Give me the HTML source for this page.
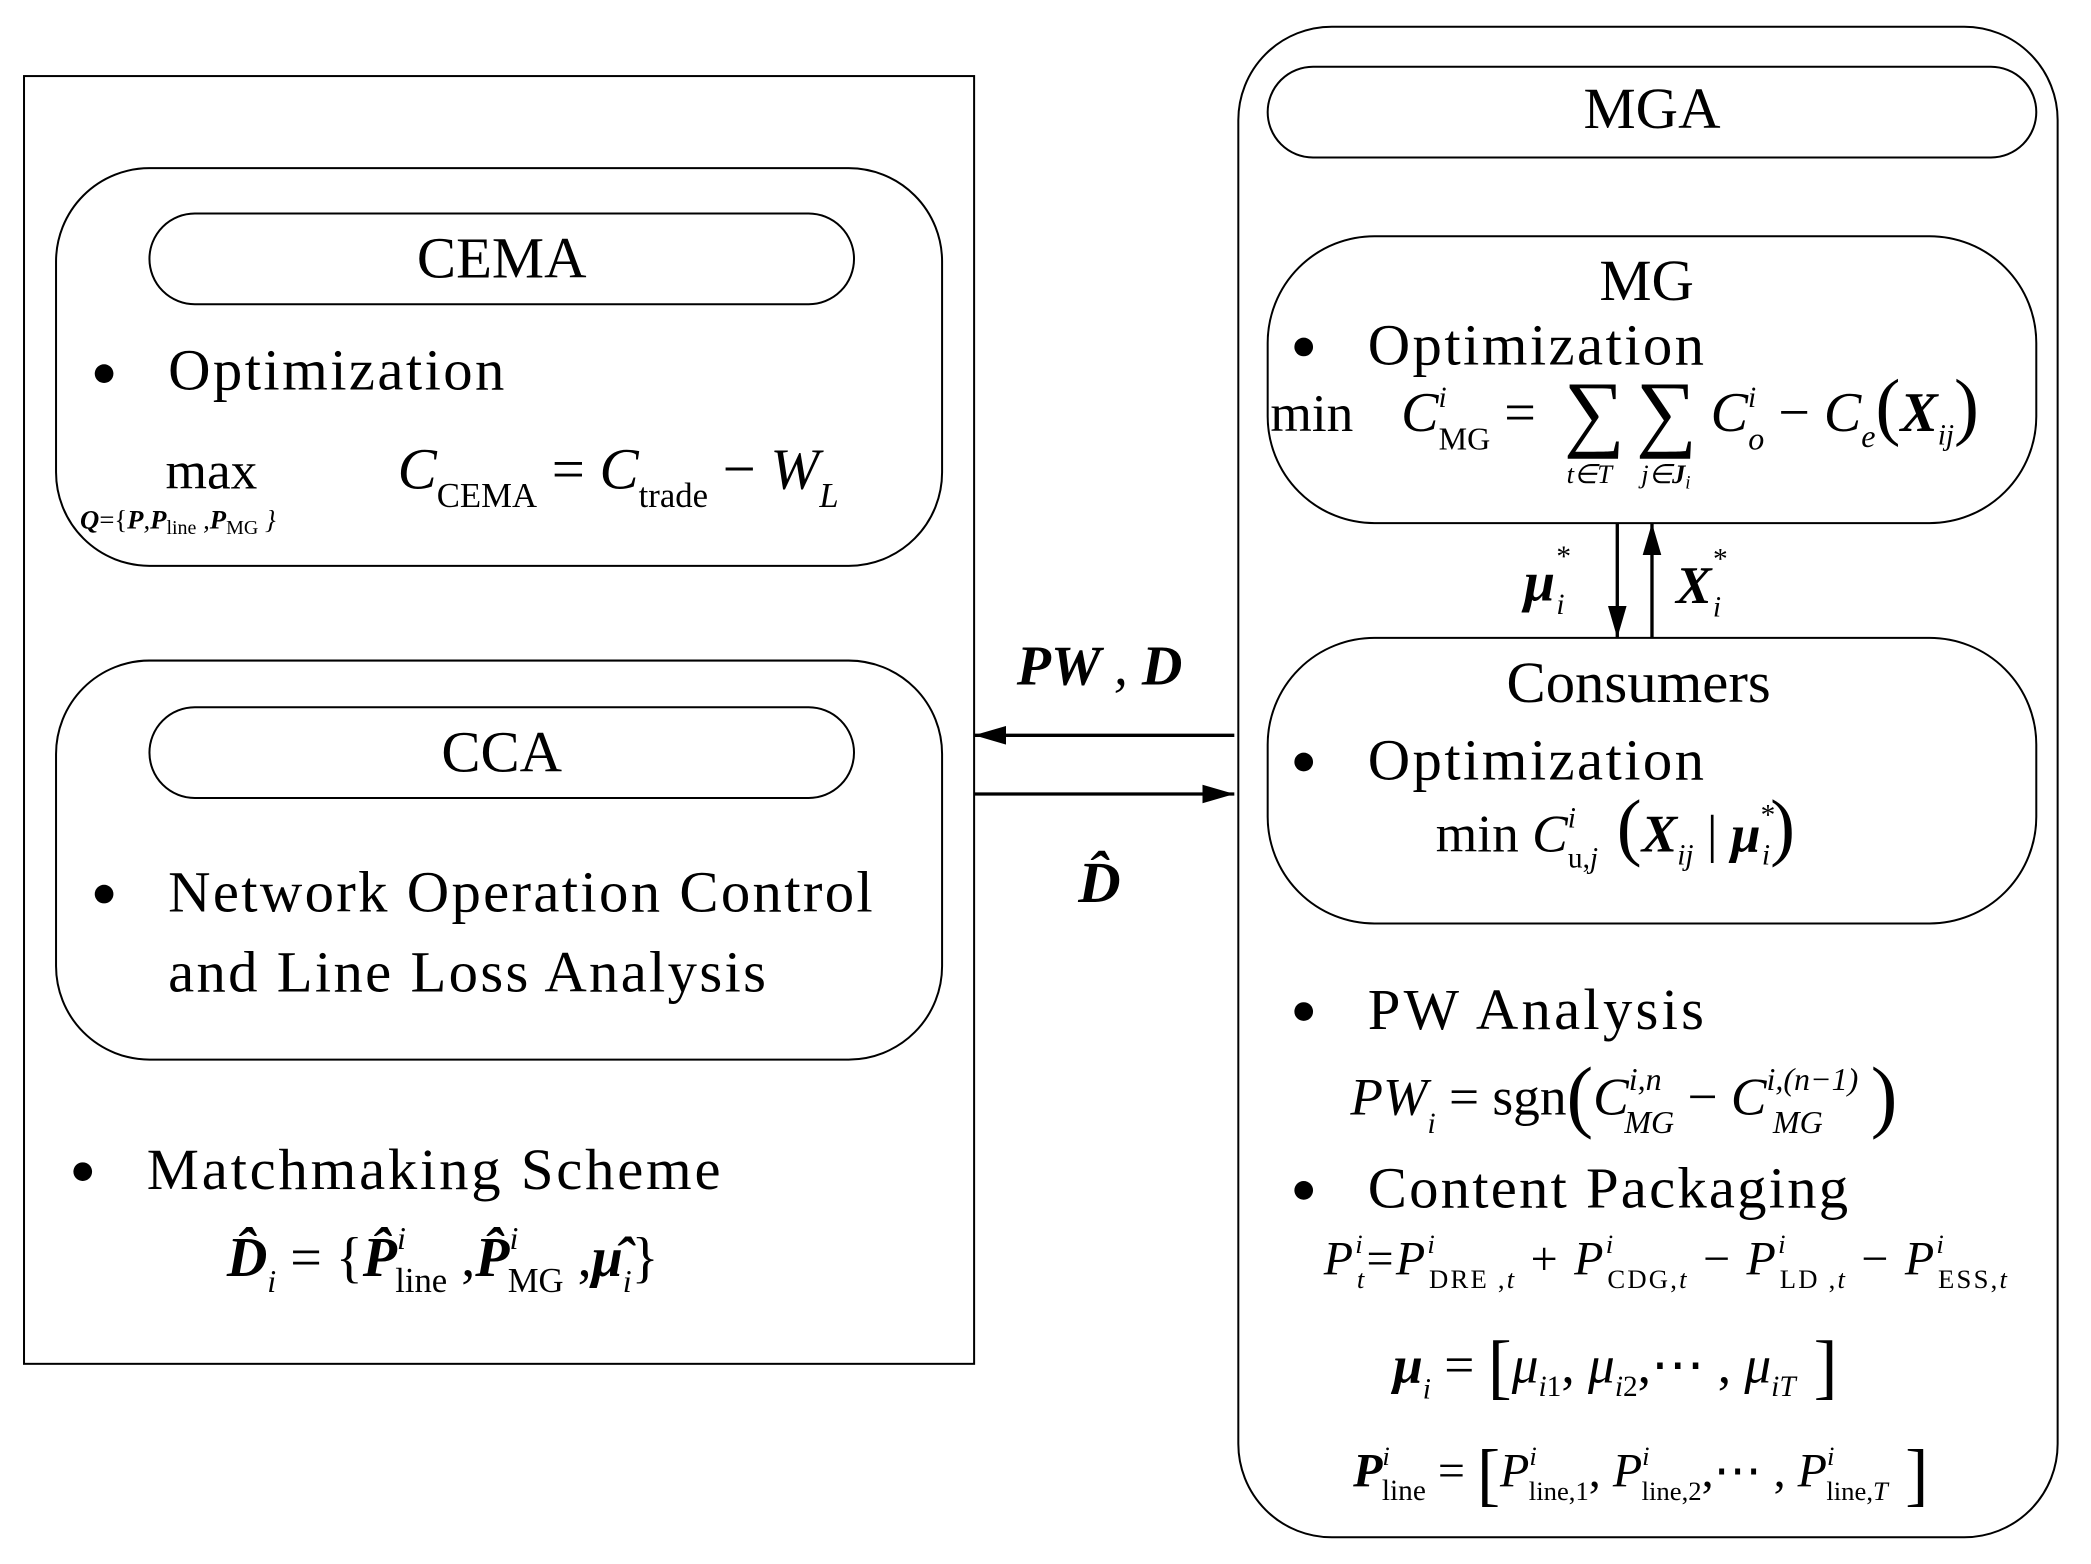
<!DOCTYPE html>
<html><head><meta charset="utf-8"><style>
html,body{margin:0;padding:0;background:#fff}
svg{display:block}
text{font-family:"Liberation Serif",serif;fill:#000}
.it{font-style:italic}
.b{font-weight:bold;font-style:italic}
</style></head><body>
<svg width="2091" height="1564" viewBox="0 0 1567 1172" preserveAspectRatio="none" xmlns="http://www.w3.org/2000/svg">
<defs>
<marker id="a2" viewBox="0 0 24 14" markerWidth="24" markerHeight="14" refX="24" refY="7" orient="auto" markerUnits="userSpaceOnUse"><path d="M0,0 L24,7 L0,14 Z" fill="#000"/></marker></defs>
<g fill="none" stroke="#000" stroke-width="1.5">
<rect x="18" y="57" width="712" height="965"/>
<rect x="42" y="126" width="664" height="298" rx="70"/>
<rect x="112" y="160" width="528" height="68" rx="34"/>
<rect x="42" y="495" width="664" height="299" rx="70"/>
<rect x="112" y="530" width="528" height="68" rx="34"/>
<rect x="928" y="20" width="614" height="1132" rx="70"/>
<rect x="950" y="50" width="576" height="68" rx="34"/>
<rect x="950" y="177" width="576" height="215" rx="80"/>
<rect x="950" y="478" width="576" height="214" rx="80"/>
<line x1="1212" y1="392" x2="1212" y2="478" stroke-width="2.5" marker-end="url(#a2)"/>
<line x1="1238" y1="478" x2="1238" y2="392" stroke-width="2.5" marker-end="url(#a2)"/>
<line x1="925" y1="551" x2="730" y2="551" stroke-width="2.5" marker-end="url(#a2)"/>
<line x1="730" y1="595" x2="925" y2="595" stroke-width="2.5" marker-end="url(#a2)"/>
</g>
<g font-size="44">
<text x="376" y="208" text-anchor="middle">CEMA</text>
<text x="376" y="578" text-anchor="middle">CCA</text>
<text x="1238" y="96" text-anchor="middle">MGA</text>
<text x="1234" y="225" text-anchor="middle">MG</text>
<text x="1228" y="526" text-anchor="middle">Consumers</text>
<circle cx="78" cy="280" r="7"/><text x="126" y="292" textLength="252">Optimization</text>
<circle cx="78" cy="670" r="7"/><text x="126" y="683" textLength="528">Network Operation Control</text>
<text x="126" y="743" textLength="448">and Line Loss Analysis</text>
<circle cx="62" cy="878" r="7"/><text x="110" y="891" textLength="430">Matchmaking Scheme</text>
<circle cx="977" cy="260" r="7"/><text x="1025" y="273" textLength="252">Optimization</text>
<circle cx="977" cy="571" r="7"/><text x="1025" y="584" textLength="252">Optimization</text>
<circle cx="977" cy="758" r="7"/><text x="1025" y="771" textLength="252">PW Analysis</text>
<circle cx="977" cy="892" r="7"/><text x="1025" y="905" textLength="360">Content Packaging</text>
</g>
<text x="124" y="366" font-size="40">max</text>
<text x="60" y="396" font-size="20" class="b">Q<tspan font-style="normal" font-weight="normal">={</tspan>P<tspan font-weight="normal">,</tspan>P<tspan font-size="15" font-style="normal" font-weight="normal" dy="4">line</tspan><tspan dy="-4" font-weight="normal"> ,</tspan>P<tspan font-size="15" font-style="normal" font-weight="normal" dy="4">MG</tspan><tspan dy="-4" font-weight="normal"> }</tspan></text>
<text x="298" y="366" font-size="44" class="it">C<tspan font-size="26" font-style="normal" dy="14">CEMA</tspan><tspan dy="-14" font-style="normal"> = </tspan>C<tspan font-size="26" font-style="normal" dy="14">trade</tspan><tspan dy="-14" font-style="normal"> − </tspan>W<tspan font-size="26" dy="14">L</tspan></text>
<text x="170" y="956" font-size="42" class="b">D̂<tspan font-size="24" font-weight="normal" dy="12">i</tspan><tspan dy="-12" font-weight="normal" font-style="normal"> = {</tspan>P̂<tspan font-size="24" font-weight="normal" dy="-20">i</tspan><tspan font-size="26" font-weight="normal" font-style="normal" dx="-8" dy="32">line</tspan><tspan dy="-12" font-weight="normal" font-style="normal"> ,</tspan>P̂<tspan font-size="24" font-weight="normal" dy="-20">i</tspan><tspan font-size="26" font-weight="normal" font-style="normal" dx="-8" dy="32">MG</tspan><tspan dy="-12" font-weight="normal" font-style="normal"> ,</tspan>μ̂<tspan font-size="24" font-weight="normal" dy="12">i</tspan><tspan dy="-12" font-weight="normal" font-style="normal">}</tspan></text>
<text x="762" y="513" font-size="42" class="b">PW <tspan font-weight="normal">,</tspan> D</text>
<text x="808" y="676" font-size="44" class="b">D̂</text>
<text x="1142" y="450" font-size="42" class="b">μ<tspan font-size="22" font-weight="normal" dy="-26">*</tspan><tspan font-size="22" font-weight="normal" dx="-10" dy="36">i</tspan></text>
<text x="1256" y="452" font-size="40" class="b">X<tspan font-size="22" font-weight="normal" dy="-26">*</tspan><tspan font-size="22" font-weight="normal" dx="-10" dy="36">i</tspan></text>
<text x="952" y="323" font-size="40">min</text>
<text x="1050" y="323" font-size="42" class="it">C<tspan font-size="22" dy="-18">i</tspan><tspan font-size="24" font-style="normal" dx="-6" dy="32">MG</tspan><tspan dy="-14" font-style="normal"> = </tspan></text>
<text x="1172" y="330" font-size="64">∑</text>
<text x="1226" y="330" font-size="64">∑</text>
<text x="1174" y="362" font-size="20" class="it">t∈T</text>
<text x="1230" y="362" font-size="20" class="it">j∈<tspan font-weight="bold">J</tspan><tspan font-size="14" dy="4">i</tspan></text>
<text x="1282" y="323" font-size="42" class="it">C<tspan font-size="22" dy="-18">i</tspan><tspan font-size="24" dx="-6" dy="32">o</tspan><tspan dy="-14" font-style="normal"> − </tspan>C<tspan font-size="24" dy="12">e</tspan><tspan dy="-12" font-style="normal" font-size="56">(</tspan><tspan font-weight="bold">X</tspan><tspan font-size="22" dy="10">ij</tspan><tspan dy="-10" font-style="normal" font-size="56">)</tspan></text>
<text x="1076" y="638" font-size="40">min <tspan font-style="italic">C</tspan><tspan font-size="22" font-style="italic" dy="-18">i</tspan><tspan font-size="22" dx="-6" dy="30">u,<tspan font-style="italic">j</tspan></tspan><tspan dy="-12" font-size="56"> (</tspan><tspan class="b">X</tspan><tspan font-size="22" font-style="italic" dy="10">ij</tspan><tspan dy="-10"> | </tspan><tspan class="b">μ</tspan><tspan font-size="22" dy="-20">*</tspan><tspan font-size="22" font-style="italic" dx="-10" dy="30">i</tspan><tspan dy="-10" font-size="56">)</tspan></text>
<text x="1012" y="835" font-size="40" class="it">PW<tspan font-size="22" dy="14">i</tspan><tspan dy="-14" font-style="normal"> = sgn</tspan><tspan font-style="normal" font-size="60" dy="6">(</tspan><tspan dy="-6">C</tspan><tspan font-size="24" dy="-18">i,n</tspan><tspan font-size="24" dx="-28" dy="32">MG</tspan><tspan dy="-14" font-style="normal"> − </tspan>C<tspan font-size="24" dy="-18">i,(n−1)</tspan><tspan font-size="24" dx="-64" dy="32">MG</tspan><tspan font-style="normal" font-size="60" dx="36" dy="-8">)</tspan></text>
<text x="992" y="955" font-size="36" class="it" textLength="512">P<tspan font-size="20" dy="-16">i</tspan><tspan font-size="20" dx="-6" dy="26">t</tspan><tspan dy="-10" font-style="normal">=</tspan>P<tspan font-size="20" dy="-16">i</tspan><tspan font-size="20" font-style="normal" dx="-6" dy="26">DRE ,<tspan font-style="italic">t</tspan></tspan><tspan dy="-10" font-style="normal"> + </tspan>P<tspan font-size="20" dy="-16">i</tspan><tspan font-size="20" font-style="normal" dx="-6" dy="26">CDG,<tspan font-style="italic">t</tspan></tspan><tspan dy="-10" font-style="normal"> − </tspan>P<tspan font-size="20" dy="-16">i</tspan><tspan font-size="20" font-style="normal" dx="-6" dy="26">LD ,<tspan font-style="italic">t</tspan></tspan><tspan dy="-10" font-style="normal"> − </tspan>P<tspan font-size="20" dy="-16">i</tspan><tspan font-size="20" font-style="normal" dx="-6" dy="26">ESS,<tspan font-style="italic">t</tspan></tspan></text>
<text x="1044" y="1036" font-size="40" class="it"><tspan font-weight="bold">μ</tspan><tspan font-size="22" dy="12">i</tspan><tspan dy="-12" font-style="normal"> = </tspan><tspan font-style="normal" font-size="54" dy="6">[</tspan><tspan dy="-6">μ</tspan><tspan font-size="22" dy="10">i</tspan><tspan font-size="22" font-style="normal">1</tspan><tspan dy="-10" font-style="normal">, </tspan>μ<tspan font-size="22" dy="10">i</tspan><tspan font-size="22" font-style="normal">2</tspan><tspan dy="-10" font-style="normal">,⋯ , </tspan>μ<tspan font-size="22" dy="10">iT</tspan><tspan font-style="normal" font-size="54" dy="-4"> ]</tspan></text>
<text x="1014" y="1114" font-size="36" class="it"><tspan font-weight="bold">P</tspan><tspan font-size="20" dy="-16">i</tspan><tspan font-size="22" font-style="normal" dx="-6" dy="26">line</tspan><tspan dy="-10" font-style="normal"> = </tspan><tspan font-style="normal" font-size="52" dy="8">[</tspan><tspan dy="-8">P</tspan><tspan font-size="20" dy="-16">i</tspan><tspan font-size="20" font-style="normal" dx="-6" dy="26">line,1</tspan><tspan dy="-10" font-style="normal">, </tspan>P<tspan font-size="20" dy="-16">i</tspan><tspan font-size="20" font-style="normal" dx="-6" dy="26">line,2</tspan><tspan dy="-10" font-style="normal">,⋯ , </tspan>P<tspan font-size="20" dy="-16">i</tspan><tspan font-size="20" font-style="normal" dx="-6" dy="26">line,<tspan font-style="italic">T</tspan></tspan><tspan font-style="normal" font-size="52" dy="-2"> ]</tspan></text>
</svg>
</body></html>
